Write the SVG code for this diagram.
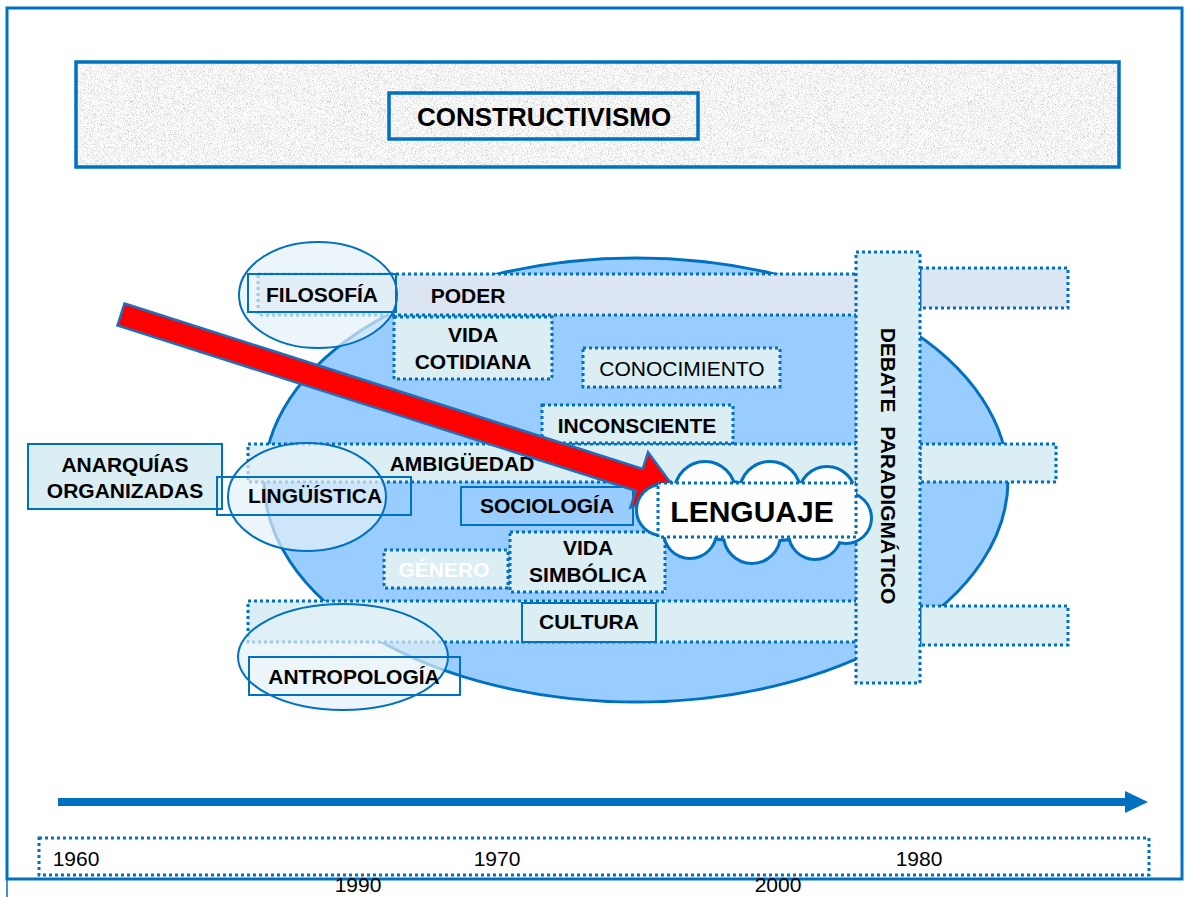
<svg xmlns="http://www.w3.org/2000/svg" width="1189" height="897" viewBox="0 0 1189 897">
<defs>
<style>
.dot{stroke:#0070c0;stroke-width:3;stroke-dasharray:3 3;fill:#daeef3}
.sol{stroke:#0070c0;stroke-width:2;fill:none}
.t{font-family:"Liberation Sans",Arial,sans-serif;font-weight:bold;font-size:21px;text-anchor:middle;fill:#000}
.r{font-weight:normal}
.yr{font-family:"Liberation Sans",Arial,sans-serif;font-size:21px;text-anchor:middle;fill:#000}
.ov{fill:#e4f1f6;fill-opacity:0.7;stroke:#0070c0;stroke-width:2}
</style>
<filter id="tex" x="0" y="0" width="100%" height="100%">
<feTurbulence type="fractalNoise" baseFrequency="1.3" numOctaves="3" seed="4"/>
<feColorMatrix type="matrix" values="1 0 0 0 0.42  1 0 0 0 0.42  1 0 0 0 0.42  0 0 0 0 1"/>
</filter>
</defs>
<rect x="0" y="0" width="1189" height="897" fill="#fff"/>
<g id="frame">
<rect x="7" y="8" width="1175" height="871" fill="none" stroke="#0070c0" stroke-width="3"/>
<line x1="7" y1="879" x2="7" y2="897" stroke="#0070c0" stroke-width="1.5"/>
</g>
<g id="banner">
<rect x="76" y="62" width="1043" height="105" fill="#e8e8e8" filter="url(#tex)"/>
<rect x="76" y="62" width="1043" height="105" fill="none" stroke="#0070c0" stroke-width="3.5"/>
<rect x="389" y="93" width="309" height="46" fill="none" stroke="#0070c0" stroke-width="3.5"/>
<text class="t" x="544" y="126" style="font-size:26px">CONSTRUCTIVISMO</text>
</g>
<g id="main-ellipse">
<ellipse cx="636" cy="480" rx="372" ry="222" fill="#99ccff" stroke="#0070c0" stroke-width="3"/>
</g>
<g id="bands">
<rect class="dot" x="258" y="274" width="600" height="41" style="fill:#dce6f2"/>
<rect class="dot" x="920" y="268" width="148" height="40" style="fill:#dce6f2"/>
<rect class="dot" x="248" y="444" width="610" height="38"/>
<rect class="dot" x="920" y="444" width="136" height="38"/>
<rect class="dot" x="248" y="601" width="610" height="41"/>
<rect class="dot" x="920" y="606" width="148" height="39"/>
</g>
<g id="poder"><text class="t" x="468" y="303">PODER</text></g>
<g id="ambiguedad"><text class="t" x="462" y="471">AMBIGÜEDAD</text></g>
<g id="vida-cotidiana">
<rect class="dot" x="394" y="317" width="158" height="62"/>
<text class="t" x="473" y="342">VIDA</text>
<text class="t" x="473" y="369">COTIDIANA</text>
</g>
<g id="conocimiento">
<rect class="dot" x="583" y="348" width="197" height="39"/>
<text class="t r" x="682" y="376">CONOCIMIENTO</text>
</g>
<g id="inconsciente">
<rect class="dot" x="542" y="405" width="191" height="38"/>
<text class="t" x="637" y="433">INCONSCIENTE</text>
</g>
<g id="sociologia">
<rect x="461" y="487" width="172" height="38" fill="#99ccff" stroke="#0070c0" stroke-width="2"/>
<text class="t" x="547" y="513">SOCIOLOGÍA</text>
</g>
<g id="genero">
<rect class="dot" x="384" y="550" width="124" height="38"/>
<text class="t" x="444" y="577" style="fill:#fff">GÉNERO</text>
</g>
<g id="vida-simbolica">
<rect class="dot" x="510" y="532" width="155" height="60"/>
<text class="t" x="588" y="555">VIDA</text>
<text class="t" x="588" y="582">SIMBÓLICA</text>
</g>
<g id="cultura">
<rect x="522" y="603" width="134" height="39" fill="#daeef3" stroke="#0070c0" stroke-width="2"/>
<text class="t" x="589" y="629">CULTURA</text>
</g>
<g id="anarquias">
<rect x="28" y="444" width="194" height="65" fill="#daeef3" stroke="#0070c0" stroke-width="2"/>
<text class="t" x="125" y="472">ANARQUÍAS</text>
<text class="t" x="125" y="498">ORGANIZADAS</text>
</g>
<g id="filosofia">
<ellipse class="ov" cx="318" cy="295" rx="79" ry="53"/>
<rect class="sol" x="248" y="274" width="148" height="38"/>
<text class="t" x="322" y="302">FILOSOFÍA</text>
</g>
<g id="linguistica">
<ellipse class="ov" cx="307" cy="497" rx="79" ry="54"/>
<rect class="sol" x="217" y="477" width="194" height="38"/>
<text class="t" x="315" y="503">LINGÜÍSTICA</text>
</g>
<g id="antropologia">
<ellipse class="ov" cx="343" cy="657" rx="105" ry="53"/>
<rect class="sol" x="249" y="657" width="211" height="38"/>
<text class="t" x="354" y="684">ANTROPOLOGÍA</text>
</g>
<g id="debate">
<rect class="dot" x="856" y="252" width="64" height="431"/>
<text class="t" transform="translate(881,466) rotate(90)" word-spacing="8">DEBATE PARADIGMÁTICO</text>
</g>
<g id="connectors">
<polygon points="0,-11.5 544,-11.5 544,-29 584,0 544,29 544,11.5 0,11.5" transform="translate(121,314.5) rotate(17.7)" fill="#ff0000" stroke="#1f6fbf" stroke-width="2.5"/>
<line x1="58" y1="802" x2="1128" y2="802" stroke="#0070c0" stroke-width="8"/>
<polygon points="1125,791 1148,802 1125,813" fill="#0070c0"/>
</g>
<g id="lenguaje">
<g fill="#0070c0" stroke="#0070c0" stroke-width="6">
<circle cx="662" cy="510" r="24"/><circle cx="705" cy="492" r="29"/><circle cx="770" cy="492" r="29"/><circle cx="827" cy="495" r="27"/><circle cx="846" cy="518" r="24"/><circle cx="815" cy="533" r="25"/><circle cx="752" cy="535" r="27"/><circle cx="690" cy="532" r="25"/><ellipse cx="755" cy="512" rx="95" ry="28"/>
</g>
<g fill="#fff">
<circle cx="662" cy="510" r="24"/><circle cx="705" cy="492" r="29"/><circle cx="770" cy="492" r="29"/><circle cx="827" cy="495" r="27"/><circle cx="846" cy="518" r="24"/><circle cx="815" cy="533" r="25"/><circle cx="752" cy="535" r="27"/><circle cx="690" cy="532" r="25"/><ellipse cx="755" cy="512" rx="95" ry="28"/>
</g>
<rect class="dot" x="658" y="483" width="198" height="54" style="fill:#fff"/>
<text class="t" x="752" y="522" style="font-size:30px">LENGUAJE</text>
</g>
<g id="years">
<rect x="39" y="838" width="1110" height="37" fill="none" stroke="#0070c0" stroke-width="3" stroke-dasharray="3 3"/>
<text class="yr" x="76" y="866">1960</text>
<text class="yr" x="497" y="866">1970</text>
<text class="yr" x="919" y="866">1980</text>
<text class="yr" x="358" y="892">1990</text>
<text class="yr" x="778" y="892">2000</text>
</g>
</svg>
